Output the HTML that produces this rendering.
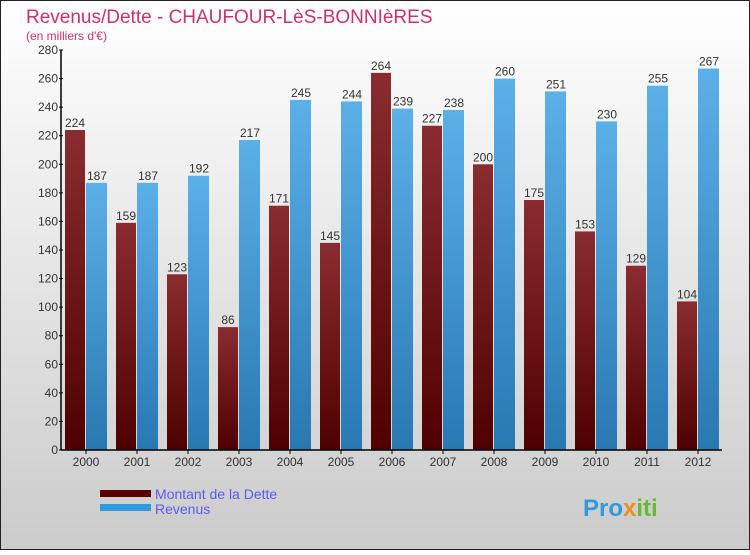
<!DOCTYPE html>
<html><head><meta charset="utf-8"><style>
body{margin:0}
#c{width:750px;height:550px;position:relative;font-family:"Liberation Sans",sans-serif;}
</style></head><body>
<div id="c">
<svg id="s" width="750" height="550" xmlns="http://www.w3.org/2000/svg">
<defs>
<linearGradient id="bg" x1="0" y1="0" x2="0" y2="1"><stop offset="0" stop-color="#ffffff"/><stop offset="1" stop-color="#cbcbcb"/></linearGradient>
<linearGradient id="gd" x1="0" y1="0" x2="0" y2="1"><stop offset="0" stop-color="#8a2c2f"/><stop offset="1" stop-color="#4f0000"/></linearGradient>
<linearGradient id="gr" x1="0" y1="0" x2="0" y2="1"><stop offset="0" stop-color="#5cb0e8"/><stop offset="1" stop-color="#2878b2"/></linearGradient>
</defs>
<rect x="0.5" y="0.5" width="749" height="549" fill="url(#bg)" stroke="#222"/>
<text x="26" y="23" font-size="19" fill="#c8336a">Revenus/Dette - CHAUFOUR-LèS-BONNIèRES</text>
<text x="26" y="40" font-size="12" fill="#c8336a">(en milliers d'€)</text>
<g id="bars"></g>
<g id="axes"></g>
<rect x="100" y="490" width="51" height="7" fill="#5a0000"/>
<text x="155" y="499" font-size="14" fill="#5b5bef">Montant de la Dette</text>
<rect x="100" y="504" width="51" height="7" fill="#3399dd"/>
<text x="155" y="514" font-size="14" fill="#5b5bef">Revenus</text>
<text x="583" y="516" font-size="24" font-weight="bold" fill="#3399dd">Pro<tspan fill="#e89020">x</tspan><tspan fill="#66bb33">iti</tspan></text>
</svg>
</div>
<script>
const years=["2000","2001","2002","2003","2004","2005","2006","2007","2008","2009","2010","2011","2012"];
const debt=[224,159,123,86,171,145,264,227,200,175,153,129,104];
const revenue=[187,187,192,217,245,244,239,238,260,251,230,255,267];
const yTicks=[0,20,40,60,80,100,120,140,160,180,200,220,240,260,280];
const NS="http://www.w3.org/2000/svg";
const x0=61,step=51,y0=450,yTop=50,yMax=280;
const yS=v=>y0-(v/yMax)*(y0-yTop);
function mk(t,a,p){const e=document.createElementNS(NS,t);for(const k in a)e.setAttribute(k,a[k]);p.appendChild(e);return e;}
const bars=document.getElementById('bars'),axes=document.getElementById('axes');
years.forEach((yr,i)=>{
  const gx=x0+step*i;
  const d=mk('rect',{x:gx+4,y:yS(debt[i]),width:20,height:y0-yS(debt[i]),fill:'url(#gd)'},bars);
  
  
  const r=mk('rect',{x:gx+25,y:yS(revenue[i]),width:21,height:y0-yS(revenue[i]),fill:'url(#gr)'},bars);
  
  
  const t1=mk('text',{x:gx+14,y:yS(debt[i])-3,'font-size':12,fill:'#333','text-anchor':'middle'},bars);t1.textContent=debt[i];
  
  
  const t2=mk('text',{x:gx+36,y:yS(revenue[i])-3,'font-size':12,fill:'#333','text-anchor':'middle'},bars);t2.textContent=revenue[i];
  
  
  const xl=mk('text',{x:gx+25,y:466,'font-size':12,fill:'#333','text-anchor':'middle'},axes);xl.textContent=yr;
  
  
  mk('line',{x1:gx+25,x2:gx+25,y1:450,y2:454,stroke:'#000'},axes);
});
mk('line',{x1:x0,x2:x0,y1:yTop,y2:y0,stroke:'#000','stroke-width':1.5},axes);
mk('line',{x1:x0,x2:722,y1:y0,y2:y0,stroke:'#000','stroke-width':1.5},axes);
yTicks.forEach(v=>{
  mk('line',{x1:x0-2,x2:x0+2,y1:yS(v),y2:yS(v),stroke:'#000'},axes);
  const t=mk('text',{x:x0-3,y:yS(v)+4,'font-size':12,fill:'#333','text-anchor':'end'},axes);t.textContent=v;
  
  
});
</script>
</body></html>
